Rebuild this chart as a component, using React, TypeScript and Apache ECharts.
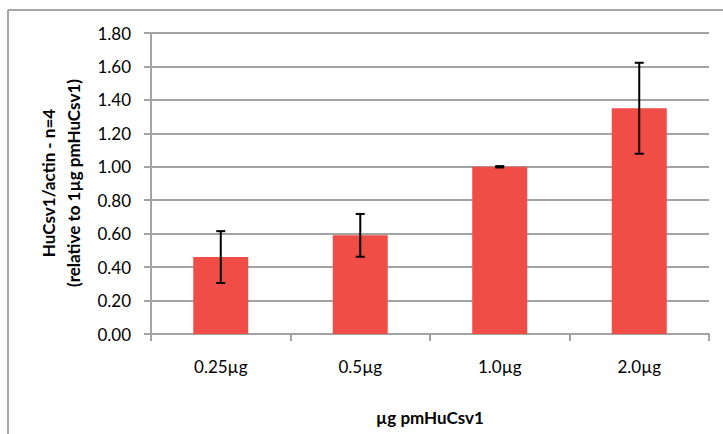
import React, { useEffect, useRef } from "react";
import * as echarts from "echarts";

// Plasmid amounts transfected
const categories = ["0.25µg", "0.5µg", "1.0µg", "2.0µg"];
// Mean HuCsv1/actin ratio, relative to 1µg
const means = [0.46, 0.59, 1.0, 1.35];
// Standard deviation (n=4)
const errors = [0.155, 0.128, 0.004, 0.272];
// Y axis ticks
const yMin = 0;
const yMax = 1.8;
const yStep = 0.2;

const FONT = "Lato, 'Noto Sans', sans-serif";
const GRID_GRAY = "#A3A3A3";

export default function App() {
  const ref = useRef<HTMLDivElement>(null);

  useEffect(() => {
    if (!ref.current) return;
    const chart = echarts.init(ref.current, null, { renderer: "svg" });

    const errorData = means.map((m, i) => [i, m - errors[i], m + errors[i]]);

    chart.setOption({
      animation: false,
      backgroundColor: "#ffffff",
      textStyle: { fontFamily: FONT },
      grid: { left: 151, right: 14, top: 33, bottom: 100, containLabel: false },
      graphic: [
        {
          type: "line",
          shape: { x1: 8, y1: 10, x2: 723, y2: 10 },
          style: { stroke: "#A6A6A6", lineWidth: 2 },
          silent: true,
        },
        {
          type: "line",
          shape: { x1: 8, y1: 10, x2: 8, y2: 434 },
          style: { stroke: "#A6A6A6", lineWidth: 2 },
          silent: true,
        },
        {
          type: "text",
          x: 36,
          y: 183,
          rotation: Math.PI / 2,
          style: {
            text: "HuCsv1/actin - n=4\n(relative to 1µg pmHuCsv1)",
            fontFamily: FONT,
            fontWeight: "bold",
            fontSize: 17,
            lineHeight: 25,
            fill: "#000",
            align: "center",
            verticalAlign: "top",
          },
          silent: true,
        },
      ],
      xAxis: {
        type: "category",
        data: categories,
        name: "µg pmHuCsv1",
        nameLocation: "middle",
        nameGap: 75,
        nameTextStyle: { fontFamily: FONT, fontWeight: "bold", fontSize: 17, color: "#000" },
        axisLine: { show: true, lineStyle: { color: GRID_GRAY, width: 2 } },
        axisTick: { show: true, length: 7, lineStyle: { color: GRID_GRAY, width: 2 } },
        axisLabel: { fontFamily: FONT, fontSize: 17, color: "#000", margin: 24 },
      },
      yAxis: {
        type: "value",
        min: yMin,
        max: yMax,
        interval: yStep,
        axisLine: { show: true, lineStyle: { color: GRID_GRAY, width: 2 } },
        axisTick: { show: true, length: 7, lineStyle: { color: GRID_GRAY, width: 2 } },
        splitLine: { show: true, lineStyle: { color: GRID_GRAY, width: 2 } },
        axisLabel: {
          fontFamily: FONT,
          fontSize: 17,
          color: "#000",
          margin: 20,
          formatter: (v: number) => v.toFixed(2),
        },
      },
      series: [
        {
          type: "bar",
          data: means,
          barWidth: 55,
          itemStyle: { color: "#F04D47" },
          z: 2,
        },
        {
          type: "custom",
          data: errorData,
          encode: { x: 0, y: [1, 2] },
          z: 3,
          renderItem: (params: any, api: any) => {
            const idx = api.value(0);
            const top = api.coord([idx, api.value(2)]);
            const bot = api.coord([idx, api.value(1)]);
            const hw = 4.5;
            const style = { stroke: "#000", lineWidth: 2 };
            return {
              type: "group",
              children: [
                { type: "line", shape: { x1: top[0], y1: top[1], x2: bot[0], y2: bot[1] }, style },
                { type: "line", shape: { x1: top[0] - hw, y1: top[1], x2: top[0] + hw, y2: top[1] }, style },
                { type: "line", shape: { x1: bot[0] - hw, y1: bot[1], x2: bot[0] + hw, y2: bot[1] }, style },
              ],
            };
          },
        },
      ],
    });

    return () => chart.dispose();
  }, []);

  return (
    <div
      ref={ref}
      style={{ position: "fixed", left: 0, top: 0, width: 723, height: 434 }}
    />
  );
}
